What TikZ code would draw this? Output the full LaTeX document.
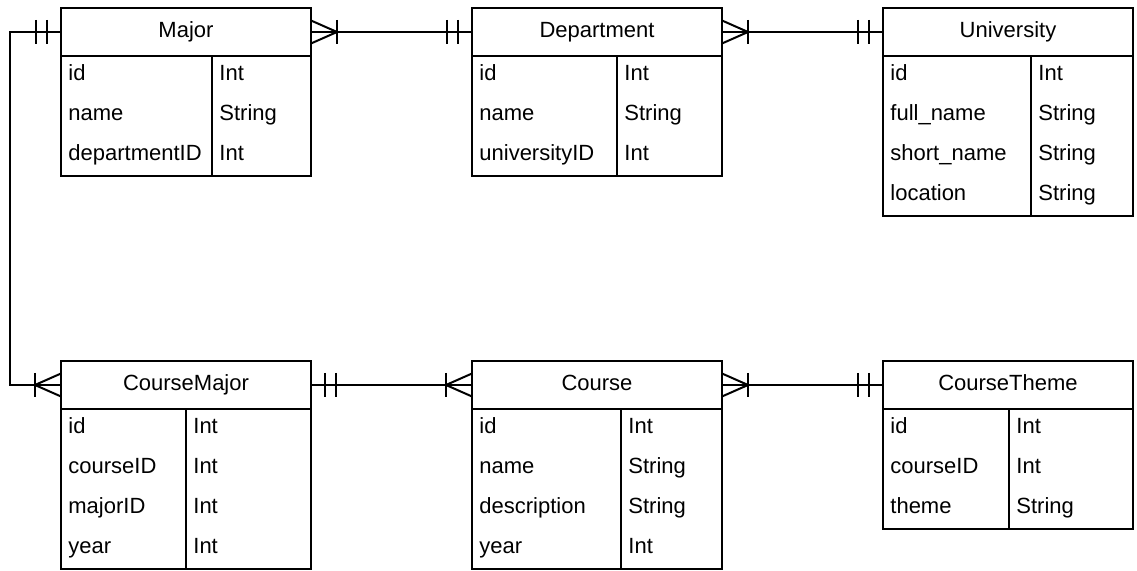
\documentclass[tikz,border=0pt]{standalone}
\usepackage{fontspec}
\setmainfont{Liberation Sans}
\usetikzlibrary{calc}

\tikzset{
  er/.style = {line width = 1pt},
  head/.style = {er, draw, anchor = north west, inner sep = 0pt, outer sep = 0pt, minimum width = 125pt, minimum height = 24pt, text height = 7.5pt, text depth = 2pt, font = \fontsize{11}{13}\selectfont},
  field/.style = {anchor = base west, inner sep = 0pt, font = \fontsize{11}{13}\selectfont},
  crowfoot/.pic = {\draw[er] (0, -11.5)--(26, 0)--(0, 11.5); \draw[er] (26, -12)--(26, 12);},
  onlyone/.pic = {\draw[er] (-14, -12)--(-14, 12); \draw[er] (-25, -12)--(-25, 12);}
}

% name, x, y, divider, rows, title, fields
\newcommand{\erbox}[7]{%
  \node[head] (#1) at (#2, #3) {#6};
  \draw[er] (#1.south west) rectangle ++(250, {40*#5});
  \draw[er] ($(#1.south west) + ({#4 - #2}, 0)$)--++(0, {40*#5});
  \foreach \fname/\ftype [count = \i] in {#7} {
    \node[field] (#1-f\i) at ($(#1.south west) + (7, {25 + 40*(\i - 1)})$) {\fname};
    \node[field] (#1-t\i) at ($(#1.south west) + ({#4 - #2 + 7}, {25 + 40*(\i - 1)})$) {\ftype};
  }
}

\begin{document}
\begin{tikzpicture}[x = 0.5pt, y = -0.5pt]
  \useasboundingbox (0, 0) rectangle (1137, 571);
  \erbox{major}{61}{8}{212}{3}{Major}{id/Int, name/String, departmentID/Int}
  \erbox{department}{472}{8}{617}{3}{Department}{id/Int, name/String, universityID/Int}
  \erbox{university}{883}{8}{1031}{4}{University}{id/Int, full\_name/String, short\_name/String, location/String}
  \erbox{coursemajor}{61}{361}{186}{4}{CourseMajor}{id/Int, courseID/Int, majorID/Int, year/Int}
  \erbox{course}{472}{361}{621}{4}{Course}{id/Int, name/String, description/String, year/Int}
  \erbox{coursetheme}{883}{361}{1009}{3}{CourseTheme}{id/Int, courseID/Int, theme/String}

  \draw[er] (major.east)--(department.west);
  \pic at (major.east) {crowfoot};
  \pic at (department.west) {onlyone};
  \draw[er] (department.east)--(university.west);
  \pic at (department.east) {crowfoot};
  \pic at (university.west) {onlyone};
  \draw[er] (major.west)--++(-51, 0) |- (coursemajor.west);
  \pic at (major.west) {onlyone};
  \pic[xscale = -1] at (coursemajor.west) {crowfoot};
  \draw[er] (coursemajor.east)--(course.west);
  \pic[xscale = -1] at (coursemajor.east) {onlyone};
  \pic[xscale = -1] at (course.west) {crowfoot};
  \draw[er] (course.east)--(coursetheme.west);
  \pic at (course.east) {crowfoot};
  \pic at (coursetheme.west) {onlyone};
\end{tikzpicture}
\end{document}
